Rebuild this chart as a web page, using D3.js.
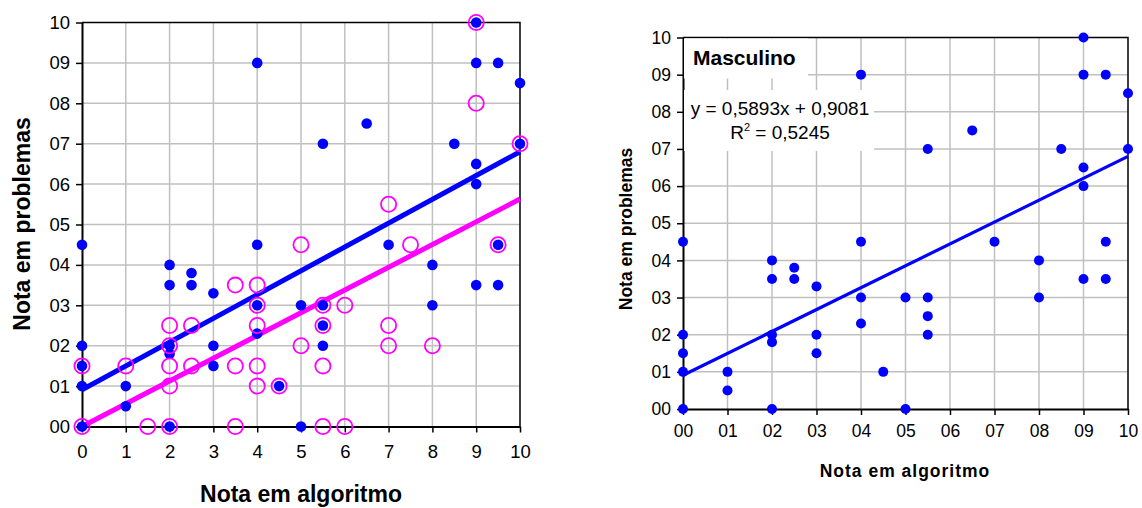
<!DOCTYPE html>
<html>
<head>
<meta charset="utf-8">
<script src="https://cdn.jsdelivr.net/npm/d3@7"></script>
<style>
  body { margin: 0; background: #fff; }
  svg { font-family: "Liberation Sans", Arial, sans-serif; }
</style>
</head>
<body>
<script>
// Tick values shared by both charts
var tickValues = [0, 1, 2, 3, 4, 5, 6, 7, 8, 9, 10];

// Masculino (blue dots): nota em algoritmo / nota em problemas
var masculinoX = [0, 0, 0, 0, 0, 1, 1, 2, 2, 2, 2, 2, 2.5, 2.5, 3, 3, 3, 4, 4, 4, 4, 4.5,
                  5, 5, 5.5, 5.5, 5.5, 5.5, 6.5, 7, 8, 8, 8.5, 9, 9, 9, 9, 9, 9.5, 9.5, 9.5, 10, 10];
var masculinoY = [0, 1, 1.5, 2, 4.5, 0.5, 1, 0, 1.8, 2, 3.5, 4, 3.5, 3.8, 1.5, 2, 3.3, 2.3, 3, 4.5, 9, 1,
                  0, 3, 2, 2.5, 3, 7, 7.5, 4.5, 3, 4, 7, 3.5, 6, 6.5, 9, 10, 3.5, 4.5, 9, 7, 8.5];

// Feminino (magenta open circles)
var femininoX = [0, 0, 1, 1.5, 2, 2, 2, 2, 2, 2.5, 2.5, 3.5, 3.5, 3.5, 4, 4, 4, 4, 4, 4.5,
                 5, 5, 5.5, 5.5, 5.5, 5.5, 6, 6, 7, 7, 7, 7.5, 8, 9, 9, 9.5, 10];
var femininoY = [0, 1.5, 1.5, 0, 0, 1, 1.5, 2, 2.5, 1.5, 2.5, 0, 1.5, 3.5, 1, 1.5, 2.5, 3, 3.5, 1,
                 2, 4.5, 0, 1.5, 2.5, 3, 0, 3, 2, 2.5, 5.5, 4.5, 2, 8, 10, 4.5, 7];

// Trendlines (slope, intercept)
var masculinoTrend = [0.5893, 0.9081];
var femininoTrend = [0.563, 0.0];

var svg = d3.select("body")
    .append("svg")
    .attr("width", 1142)
    .attr("height", 508);

// Draws one scatter panel and returns its scales
function drawPanel(opts) {
    var x = d3.scaleLinear().domain([0, 10]).range([opts.left, opts.right]);
    var y = d3.scaleLinear().domain([0, 10]).range([opts.bottom, opts.top]);
    var g = svg.append("g");

    // grid lines
    g.append("g")
        .selectAll("line.vg")
        .data(tickValues.slice(1, -1))
        .enter()
        .append("line")
        .attr("x1", function (d) { return x(d); })
        .attr("x2", function (d) { return x(d); })
        .attr("y1", opts.top)
        .attr("y2", opts.bottom)
        .attr("stroke", "#c0c0c0")
        .attr("stroke-width", 1.5);
    g.append("g")
        .selectAll("line.hg")
        .data(tickValues.slice(1, -1))
        .enter()
        .append("line")
        .attr("y1", function (d) { return y(d); })
        .attr("y2", function (d) { return y(d); })
        .attr("x1", opts.left)
        .attr("x2", opts.right)
        .attr("stroke", "#c0c0c0")
        .attr("stroke-width", 1.5);

    // top and right border
    g.append("path")
        .attr("d", "M" + opts.left + "," + opts.top + "H" + opts.right + "V" + opts.bottom)
        .attr("fill", "none")
        .attr("stroke", "#000")
        .attr("stroke-width", 1.5);

    // axes
    var yAxis = d3.axisLeft(y).tickValues(tickValues).tickFormat(d3.format("02d"))
        .tickSize(6).tickSizeOuter(0).tickPadding(opts.yPad);
    var xAxis = d3.axisBottom(x).tickValues(tickValues).tickFormat(opts.xFormat)
        .tickSize(6).tickSizeOuter(0).tickPadding(opts.xPad);

    var ya = g.append("g")
        .attr("transform", "translate(" + opts.left + ",0)")
        .call(yAxis);
    var xa = g.append("g")
        .attr("transform", "translate(0," + opts.bottom + ")")
        .call(xAxis);
    [ya, xa].forEach(function (a) {
        a.select(".domain").attr("stroke-width", 2);
        a.selectAll(".tick line").attr("stroke-width", 1.5);
        a.selectAll("text")
            .attr("fill", "#000")
            .style("font-size", opts.tickFont + "px")
            .style("font-family", "Liberation Sans, Arial, sans-serif");
    });

    // axis titles
    g.append("text")
        .text("Nota em algoritmo")
        .attr("x", opts.xTitle[0])
        .attr("y", opts.xTitle[1])
        .attr("text-anchor", "middle")
        .attr("font-weight", "bold")
        .attr("font-size", opts.titleFont)
        .attr("letter-spacing", opts.xTitleSpacing);
    g.append("text")
        .text("Nota em problemas")
        .attr("transform", "translate(" + opts.yTitle[0] + "," + opts.yTitle[1] + ") rotate(-90)")
        .attr("text-anchor", "middle")
        .attr("font-weight", "bold")
        .attr("font-size", opts.titleFont);

    return { x: x, y: y, g: g };
}

// ---------- left panel: both groups ----------
var left = drawPanel({
    left: 82, right: 520, top: 22.5, bottom: 426.5,
    xFormat: d3.format("d"), tickFont: 18.5, yPad: 6, xPad: 12,
    titleFont: 23, xTitleSpacing: 0,
    xTitle: [301, 502], yTitle: [30, 224]
});

function trendLine(p, coef, color, width) {
    p.g.append("line")
        .attr("x1", p.x(0))
        .attr("y1", p.y(Math.max(0, coef[1])))
        .attr("x2", p.x(10))
        .attr("y2", p.y(coef[0] * 10 + coef[1]))
        .attr("stroke", color)
        .attr("stroke-width", width);
}

trendLine(left, masculinoTrend, "#0000ff", 5);
trendLine(left, femininoTrend, "#ff00ff", 5);

left.g.append("g")
    .selectAll("circle")
    .data(masculinoX)
    .enter()
    .append("circle")
    .attr("cx", function (d) { return left.x(d); })
    .attr("cy", function (d, i) { return left.y(masculinoY[i]); })
    .attr("r", 5.3)
    .attr("fill", "#0000ff");

left.g.append("g")
    .selectAll("circle")
    .data(femininoX)
    .enter()
    .append("circle")
    .attr("cx", function (d) { return left.x(d); })
    .attr("cy", function (d, i) { return left.y(femininoY[i]); })
    .attr("r", 7.6)
    .attr("fill", "none")
    .attr("stroke", "#ff00ff")
    .attr("stroke-width", 1.8);

// ---------- right panel: Masculino ----------
var right = drawPanel({
    left: 683, right: 1128, top: 37.5, bottom: 409,
    xFormat: d3.format("02d"), tickFont: 17.5, yPad: 6, xPad: 10,
    titleFont: 17.5, xTitleSpacing: 1,
    xTitle: [905, 477], yTitle: [632, 229]
});

// white label boxes hide the grid under the texts
right.g.append("rect")
    .attr("x", 684).attr("y", 38.5).attr("width", 124).attr("height", 40)
    .attr("fill", "#fff");
right.g.append("rect")
    .attr("x", 684).attr("y", 90).attr("width", 190).attr("height", 61)
    .attr("fill", "#fff");

right.g.append("text")
    .text("Masculino")
    .attr("x", 693)
    .attr("y", 65)
    .attr("font-weight", "bold")
    .attr("font-size", 21);

var eq = right.g.append("text")
    .attr("text-anchor", "middle")
    .attr("font-size", 19);
eq.append("tspan")
    .attr("x", 780).attr("y", 115)
    .text("y = " + d3.format(".4f")(masculinoTrend[0]).replace(".", ",") + "x + " +
          d3.format(".4f")(masculinoTrend[1]).replace(".", ","));
var r2 = right.g.append("text")
    .attr("text-anchor", "middle")
    .attr("x", 780).attr("y", 138.5)
    .attr("font-size", 19);
r2.append("tspan").text("R");
r2.append("tspan").text("2").attr("font-size", 11).attr("dy", -8);
r2.append("tspan").text(" = 0,5245").attr("dy", 8);

trendLine(right, masculinoTrend, "#0000ff", 3.2);

right.g.append("g")
    .selectAll("circle")
    .data(masculinoX)
    .enter()
    .append("circle")
    .attr("cx", function (d) { return right.x(d); })
    .attr("cy", function (d, i) { return right.y(masculinoY[i]); })
    .attr("r", 5)
    .attr("fill", "#0000ff");
</script>
</body>
</html>
